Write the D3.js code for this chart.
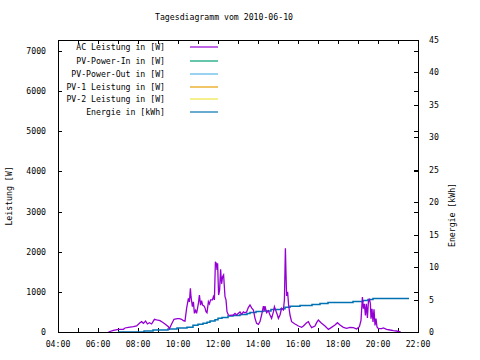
<!DOCTYPE html>
<html><head><meta charset="utf-8">
<script src="https://cdn.jsdelivr.net/npm/d3@7"></script>
<style>
html,body{margin:0;padding:0;background:#fff;}
text{font-family:"DejaVu Sans Mono",monospace;font-size:8.2px;fill:#000;}
</style></head>
<body><svg id="c" width="480" height="360"></svg>
<script>
const title = "Tagesdiagramm vom 2010-06-10";
const seriesNames = ["AC Leistung in [W]","PV-Power-In in [W]","PV-Power-Out in [W]","PV-1 Leistung in [W]","PV-2 Leistung in [W]","Energie in [kWh]"];
const seriesColors = ["#9400d3","#009e73","#56b4e9","#e69f00","#f0e442","#0072b2"];
const xTickHours = [4,6,8,10,12,14,16,18,20,22];
const yTicks = [0,1000,2000,3000,4000,5000,6000,7000];
const y2Ticks = [0,5,10,15,20,25,30,35,40,45];
// AC Leistung: time (hours) and W
const acTime = [6.52,6.77,7.02,7.27,7.35,7.52,7.77,7.93,8.1,8.18,8.27,8.38,8.47,8.57,8.68,8.82,8.93,9.1,9.23,9.35,9.52,9.57,9.68,9.8,9.97,10.07,10.18,10.27,10.35,10.43,10.52,10.57,10.62,10.65,10.72,10.77,10.82,10.88,10.93,11.02,11.07,11.13,11.18,11.23,11.3,11.35,11.4,11.45,11.52,11.57,11.63,11.72,11.77,11.82,11.87,11.92,11.95,11.98,12.03,12.08,12.13,12.18,12.23,12.28,12.35,12.4,12.45,12.52,12.6,12.77,12.85,12.93,13.02,13.1,13.18,13.27,13.35,13.43,13.52,13.6,13.68,13.77,13.85,13.93,14.02,14.1,14.18,14.27,14.32,14.35,14.43,14.52,14.6,14.68,14.77,14.82,14.88,14.97,15.02,15.1,15.18,15.27,15.32,15.37,15.4,15.43,15.48,15.53,15.6,15.68,15.85,16.02,16.18,16.27,16.43,16.52,16.6,16.68,16.85,16.93,17.02,17.1,17.18,17.35,17.52,17.6,17.85,17.97,18.1,18.27,18.43,18.6,18.77,18.93,19.07,19.15,19.22,19.27,19.32,19.37,19.42,19.47,19.52,19.57,19.62,19.65,19.7,19.75,19.8,19.85,19.9,19.95,20.02,20.18,20.27,20.43,20.6,20.77,20.93,21.13];
const acWatt = [0,42,67,67,100,117,133,150,232,257,216,274,200,230,200,316,300,283,241,200,133,83,200,316,332,332,316,282,270,590,840,750,1088,880,631,750,465,540,465,714,920,670,780,670,650,600,506,480,755,700,800,800,880,800,1750,1700,1545,1710,920,1045,1560,1200,1377,1420,880,800,506,423,415,423,465,423,465,500,440,500,480,500,614,672,600,548,340,216,191,260,423,647,530,647,481,530,423,340,500,631,550,423,340,423,590,550,797,2085,1461,900,1004,672,423,257,200,149,117,149,232,257,175,108,149,232,299,257,216,149,66,91,174,232,174,117,91,117,108,75,133,290,871,581,700,415,700,350,750,830,700,332,580,249,564,166,332,125,83,83,100,66,50,33,25,0];
// Energie: time (hours) and kWh (step line)
const enTime = [7.0,8.3,8.75,9.5,9.95,10.45,10.75,11.0,11.25,11.45,11.6,11.85,12.0,12.2,12.5,12.75,13.1,13.45,13.6,13.9,14.25,14.65,15.15,15.35,15.6,16.1,16.7,17.1,17.5,18.75,19.25,19.5,19.75,21.55];
const enKWh = [0,0.15,0.3,0.45,0.6,0.75,1.05,1.2,1.35,1.5,1.7,1.9,2.1,2.25,2.45,2.55,2.7,2.85,3.0,3.15,3.25,3.45,3.6,3.8,3.95,4.1,4.25,4.4,4.55,4.7,4.85,5.0,5.15,5.15];

const svg = d3.select("#c");
const L=58, R=418, T=40, B=332;
const x = d3.scaleLinear().domain([4,22]).range([L,R]);
const y = d3.scaleLinear().domain([0,7274]).range([B,T]);
const y2 = d3.scaleLinear().domain([0,45]).range([B,T]);
const fmtH = h => (h<10?"0":"")+h+":00";
const tl = 4;

// title
svg.append("text").attr("x",224).attr("y",20).attr("text-anchor","middle").text(title);

const g = svg.append("g");
// bottom x axis ticks (every hour) + labels
const hourTicks = d3.range(4,23);
g.selectAll(".xb").data(hourTicks).join("line")
  .attr("x1",d=>x(d)+0.5).attr("x2",d=>x(d)+0.5).attr("y1",B).attr("y2",B-tl).attr("stroke","#000");
g.selectAll(".xt").data(hourTicks).join("line")
  .attr("x1",d=>x(d)+0.5).attr("x2",d=>x(d)+0.5).attr("y1",T).attr("y2",T+tl).attr("stroke","#000");
g.selectAll(".xl").data(xTickHours).join("text")
  .attr("x",d=>x(d)).attr("y",347).attr("text-anchor","middle").text(fmtH);
// left y ticks
g.selectAll(".yl").data(yTicks).join("line")
  .attr("x1",L).attr("x2",L+tl).attr("y1",d=>Math.round(y(d))+0.5).attr("y2",d=>Math.round(y(d))+0.5).attr("stroke","#000");
g.selectAll(".yr").data(yTicks).join("line")
  .attr("x1",R).attr("x2",R-tl).attr("y1",d=>Math.round(y(d))+0.5).attr("y2",d=>Math.round(y(d))+0.5).attr("stroke","#000");
g.selectAll(".ylt").data(yTicks).join("text")
  .attr("x",46).attr("y",d=>y(d)+3).attr("text-anchor","end").text(d=>d);
// right y2 ticks
g.selectAll(".y2r").data(y2Ticks).join("line")
  .attr("x1",R).attr("x2",R-tl).attr("y1",d=>Math.round(y2(d))+0.5).attr("y2",d=>Math.round(y2(d))+0.5).attr("stroke","#000");
g.selectAll(".y2t").data(y2Ticks).join("text")
  .attr("x",429).attr("y",d=>y2(d)+3).attr("text-anchor","start").text(d=>d);

// axis titles
svg.append("text").attr("transform","translate(12,196) rotate(-90)").attr("text-anchor","middle").text("Leistung [W]");
svg.append("text").attr("transform","translate(455,215) rotate(-90)").attr("text-anchor","middle").text("Energie [kWh]");

// legend
const legY = [47,61,74,87,99,112];
seriesNames.forEach((n,i)=>{
  svg.append("text").attr("x",165).attr("y",legY[i]+3).attr("text-anchor","end").text(n);
  svg.append("line").attr("x1",190).attr("x2",218).attr("y1",legY[i]).attr("y2",legY[i])
    .attr("stroke",seriesColors[i]).attr("stroke-width",1.2);
});

// data lines
const acData = acTime.map((t,i)=>[t,acWatt[i]]);
const enData = enTime.map((t,i)=>[t,enKWh[i]]);
svg.append("path").datum(enData)
  .attr("d",d3.line().x(d=>x(d[0])).y(d=>y2(d[1])).curve(d3.curveStepAfter))
  .attr("fill","none").attr("stroke",seriesColors[5]).attr("stroke-width",1.5);
svg.append("path").datum(acData)
  .attr("d",d3.line().x(d=>x(d[0])).y(d=>y(d[1])))
  .attr("fill","none").attr("stroke",seriesColors[0]).attr("stroke-width",1.3);

// border
svg.append("rect").attr("x",L+0.5).attr("y",T+0.5).attr("width",R-L).attr("height",B-T)
  .attr("fill","none").attr("stroke","#000").attr("stroke-width",1);
</script></body></html>
